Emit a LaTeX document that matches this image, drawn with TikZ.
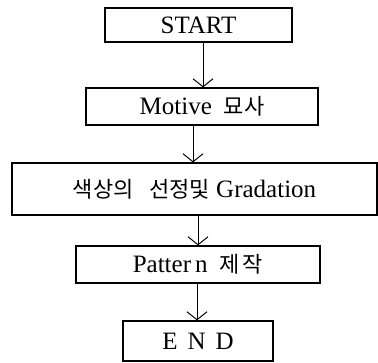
\documentclass[tikz,border=0pt]{standalone}
\usepackage{fontspec}
\setmainfont{Liberation Serif}
\newfontfamily\kr{Noto Sans CJK KR}
\usepackage{xcolor}
\usetikzlibrary{arrows.meta, positioning, calc}
\newcommand{\krtext}[1]{{\kr\fontsize{22}{26}\selectfont #1}}
\tikzset{
    box/.style={rectangle, draw=black, line width=1.2pt, minimum height=36pt,
                text centered, inner sep=0pt, font=\fontsize{25}{30}\selectfont},
    arrow/.style={line width=1pt, -{Straight Barb[length=8pt, width=20pt]}}
}

\begin{document}
\begin{tikzpicture}[x=1pt, y=-1pt]
    \useasboundingbox (0,0) rectangle (378,363);

    % Start
    \node[box, minimum width=187pt, minimum height=34pt] (start) at (198.5,25)
        {START};

    % Motive
    \node[box, minimum width=232pt, minimum height=37pt] (motive) at (202,106.5)
        {Motive\hspace{12pt}\krtext{묘사}};

    % Colour selection and gradation
    \node[box, minimum width=365pt, minimum height=52pt] (gradation) at (194.5,189)
        {\krtext{색상의\hspace{16pt}선정및}\hspace{6pt}Gradation};

    % Pattern
    \node[box, minimum width=244pt, minimum height=37pt] (pattern) at (198,264.5)
        {Patter\,n\hspace{12pt}\krtext{제\hspace{3pt}작}};

    % End
    \node[box, minimum width=150pt, minimum height=40pt] (end) at (198,341)
        {E\hspace{10pt}N\hspace{10pt}D};

    % Arrows
    \draw[arrow] ([xshift=4.5pt]start.south) -- ([xshift=1pt]motive.north);
    \draw[arrow] ([xshift=-9pt]motive.south) -- ([xshift=-1.5pt]gradation.north);
    \draw[arrow] ([xshift=3.5pt]gradation.south) -- ([xshift=0pt]pattern.north);
    \draw[arrow] ([xshift=-1pt]pattern.south) -- ([xshift=-1pt]end.north);
\end{tikzpicture}
\end{document}
